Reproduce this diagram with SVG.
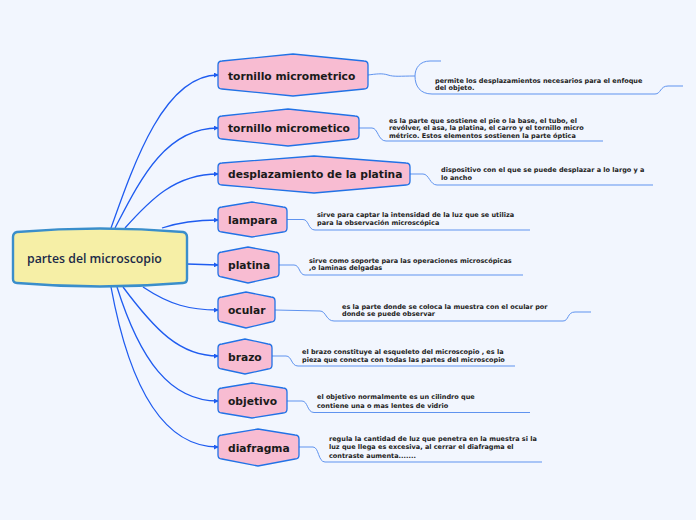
<svg xmlns="http://www.w3.org/2000/svg" width="696" height="520" viewBox="0 0 696 520">
<style>
.bg{fill:#f2f6fe}
.main{fill:none;stroke:#1f5cf0;stroke-width:1.3}
.sub{fill:none;stroke:#5f93ef;stroke-width:1}
.node{fill:#f8bcd2;stroke:#2172e6;stroke-width:1.3}
.center{fill:#f6efa6;stroke:#3a8ecb;stroke-width:2.4}
.nt{font-family:"DejaVu Sans",Verdana,sans-serif;font-weight:bold;font-size:10.7px;fill:#1a1a1a}
.ct{font-family:"Open Sans","Noto Sans",sans-serif;font-weight:600;font-size:12.3px;fill:#1b2a48}
.dt{font-family:"DejaVu Sans",Verdana,sans-serif;font-weight:bold;font-size:6.5px;fill:#222}
</style>
<defs>
<marker id="arr" viewBox="0 0 6 6" refX="5" refY="3" markerWidth="5" markerHeight="5" markerUnits="userSpaceOnUse" orient="auto">
<path d="M0,0 L6,3 L0,6 Z" fill="#1f5cf0"/>
</marker>
</defs>
<rect class="bg" x="0" y="0" width="696" height="520"/>
<g id="connectors">
<path class="main" marker-end="url(#arr)" d="M111,228 C135,160 165,75 218,75"/>
<path class="main" marker-end="url(#arr)" d="M115,228 C140,180 165,128 218,128"/>
<path class="main" marker-end="url(#arr)" d="M125,228 C150,200 175,174 218,174"/>
<path class="main" marker-end="url(#arr)" d="M162,228 C180,222 195,220 218,220"/>
<path class="main" marker-end="url(#arr)" d="M187,264 L218,265"/>
<path class="main" marker-end="url(#arr)" d="M143,287 C170,305 190,310 218,310"/>
<path class="main" marker-end="url(#arr)" d="M123,287 C155,330 180,356 218,356"/>
<path class="main" marker-end="url(#arr)" d="M117,287 C140,360 170,401 218,401"/>
<path class="main" marker-end="url(#arr)" d="M111,287 C130,390 165,447 218,447"/>
<path class="sub" d="M368,75 C376,74 382,73 388,75 C394,77 400,76 415,76"/>
<path class="sub" d="M441,61 L430,61 C420,61 415,68 415,76 C415,86 420,94 432,94 L655,94 C661,94 660,86 668,86 L683,86"/>
<path class="sub" d="M359,128 L372,128 C378,128 378,141 386,141 L603,141"/>
<path class="sub" d="M410,174 L423,174 C429,174 430,185 437,185 L653,185"/>
<path class="sub" d="M287,219.5 L303,219.5 C309,219.5 308,230 315,230 L530,230"/>
<path class="sub" d="M279,265 L294,265 C300,265 299,275 305,275 L523,275"/>
<path class="sub" d="M275,310 L320,311 C326,311 326,321 334,321 L563,321 C569,321 567,312 575,312 L591,312"/>
<path class="sub" d="M272,356 L286,356 C292,356 291,366 298,366 L515,366"/>
<path class="sub" d="M287,401 L302,401 C308,401 307,412.5 314,412.5 L530,412.5"/>
<path class="sub" d="M299,447 L313,447 C319,447 318,462 325,462 L542,462"/>
</g>
<g id="center">
<path class="center" d="M17,232 Q100,225 183,232 Q187,233 187,237 L187,279 Q187,283 183,283 Q100,290 17,283 Q13,283 13,279 L13,237 Q13,233 17,232 Z"/>
<text class="ct" x="27" y="263">partes del microscopio</text>
</g>
<g id="n1">
<path class="node" d="M222,61 L293,54 L364,61 Q368,61 368,65 L368,85 Q368,89 364,89 L293,96 L222,89 Q218,89 218,85 L218,65 Q218,61 222,61 Z"/>
<text class="nt" x="228" y="80">tornillo micrometrico</text>
</g>
<g id="d1"><text class="dt" x="435" y="82.5">permite los desplazamientos necesarios para el enfoque</text><text class="dt" x="435" y="90">del objeto.</text></g>
<g id="n2">
<path class="node" d="M222,116 L288,109 L355,116 Q359,116 359,120 L359,135 Q359,139 355,139 L288,146 L222,139 Q218,139 218,135 L218,120 Q218,116 222,116 Z"/>
<text class="nt" x="228" y="132">tornillo micrometico</text>
</g>
<g id="d2"><text class="dt" x="389" y="122.5">es la parte que sostiene el pie o la base, el tubo, el</text><text class="dt" x="389" y="130">revólver, el asa, la platina, el carro y el tornillo micro</text><text class="dt" x="389" y="137.5">métrico. Estos elementos sostienen la parte óptica</text></g>
<g id="n3">
<path class="node" d="M222,163 L314,156 L406,163 Q410,163 410,167 L410,181 Q410,185 406,185 L314,193 L222,185 Q218,185 218,181 L218,167 Q218,163 222,163 Z"/>
<text class="nt" x="228" y="178">desplazamiento de la platina</text>
</g>
<g id="d3"><text class="dt" x="441" y="172">dispositivo con el que se puede desplazar a lo largo y a</text><text class="dt" x="441" y="180">lo ancho</text></g>
<g id="n4">
<path class="node" d="M222,207 L252,202 L283,207 Q287,207 287,211 L287,228 Q287,232 283,232 L252,237 L222,232 Q218,232 218,228 L218,211 Q218,207 222,207 Z"/>
<text class="nt" x="228" y="224">lampara</text>
</g>
<g id="d4"><text class="dt" x="317" y="217">sirve para captar la intensidad de la luz que se utiliza</text><text class="dt" x="317" y="225">para la observación microscópica</text></g>
<g id="n5">
<path class="node" d="M222,252 L248,247 L275,252 Q279,252 279,256 L279,273 Q279,277 275,277 L248,283 L222,277 Q218,277 218,273 L218,256 Q218,252 222,252 Z"/>
<text class="nt" x="228" y="269">platina</text>
</g>
<g id="d5"><text class="dt" x="309" y="262.5">sirve como soporte para las operaciones microscópicas</text><text class="dt" x="309" y="270">,o laminas delgadas</text></g>
<g id="n6">
<path class="node" d="M222,297 L246,292 L271,297 Q275,297 275,301 L275,318 Q275,322 271,322 L246,328 L222,322 Q218,322 218,318 L218,301 Q218,297 222,297 Z"/>
<text class="nt" x="228" y="314">ocular</text>
</g>
<g id="d6"><text class="dt" x="342" y="308.5">es la parte donde se coloca la muestra con el ocular por</text><text class="dt" x="342" y="316">donde se puede observar</text></g>
<g id="n7">
<path class="node" d="M222,344 L245,339 L268,344 Q272,344 272,348 L272,365 Q272,369 268,369 L245,374 L222,369 Q218,369 218,365 L218,348 Q218,344 222,344 Z"/>
<text class="nt" x="228" y="360.5">brazo</text>
</g>
<g id="d7"><text class="dt" x="302" y="354">el brazo constituye al esqueleto del microscopio , es la</text><text class="dt" x="302" y="361.5">pieza que conecta con todas las partes del microscopio</text></g>
<g id="n8">
<path class="node" d="M222,388 L252,383 L283,388 Q287,388 287,392 L287,409 Q287,413 283,413 L252,418 L222,413 Q218,413 218,409 L218,392 Q218,388 222,388 Z"/>
<text class="nt" x="228" y="404.5">objetivo</text>
</g>
<g id="d8"><text class="dt" x="317" y="399">el objetivo normalmente es un cilindro que</text><text class="dt" x="317" y="407.5">contiene una o mas lentes de vidrio</text></g>
<g id="n9">
<path class="node" d="M222,435 L258,429 L295,435 Q299,435 299,439 L299,455 Q299,459 295,459 L258,466 L222,459 Q218,459 218,455 L218,439 Q218,435 222,435 Z"/>
<text class="nt" x="228" y="451.5">diafragma</text>
</g>
<g id="d9"><text class="dt" x="329" y="441">regula la cantidad de luz que penetra en la muestra si la</text><text class="dt" x="329" y="449">luz que llega es excesiva, al cerrar el diafragma el</text><text class="dt" x="329" y="457.5">contraste aumenta.......</text></g>
</svg>
